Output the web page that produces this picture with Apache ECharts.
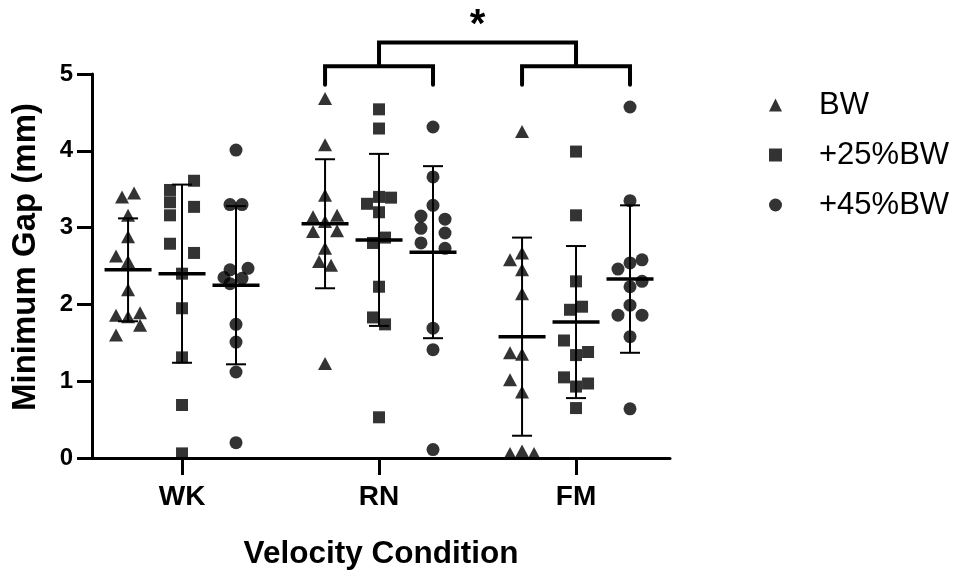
<!DOCTYPE html>
<html>
<head>
<meta charset="utf-8">
<title>Minimum Gap by Velocity Condition</title>
<script src="https://cdn.jsdelivr.net/npm/echarts@6/dist/echarts.min.js"></script>
<style>
  html, body { margin: 0; padding: 0; background: #fff; }
  #chart { width: 960px; height: 571px; }
</style>
</head>
<body>
<div id="chart"></div>
<script>
// ---- data -------------------------------------------------------------
const categories = ['WK', 'RN', 'FM'];
const loadNames = ['BW', '+25%BW', '+45%BW'];
const yTicks = [0, 1, 2, 3, 4, 5];

// individual minimum gaps (mm)
const wkBW  = [3.45, 3.40, 3.16, 2.88, 2.63, 2.56, 2.19, 1.89, 1.86, 1.84, 1.73, 1.60];
const wk25  = [3.61, 3.49, 3.33, 3.27, 3.16, 2.79, 2.67, 2.40, 1.95, 1.31, 0.69, 0.06];
const wk45  = [4.01, 3.30, 3.30, 2.47, 2.45, 2.35, 2.34, 2.27, 1.74, 1.51, 1.12, 0.20];
const rnBW  = [4.68, 4.08, 3.42, 3.16, 3.14, 3.08, 2.96, 2.95, 2.73, 2.56, 2.51, 1.23];
const rn25  = [4.54, 4.29, 3.40, 3.39, 3.31, 3.20, 2.87, 2.80, 2.23, 1.83, 1.74, 0.53];
const rn45  = [4.31, 3.66, 3.29, 3.15, 3.11, 2.99, 2.93, 2.80, 2.73, 1.69, 1.41, 0.11];
const fmBW  = [4.25, 2.67, 2.58, 2.45, 2.14, 1.37, 1.35, 1.02, 0.86, 0.06, 0.09, 0.06];
const fm25  = [3.99, 3.16, 2.30, 1.97, 1.93, 1.53, 1.38, 1.34, 1.05, 0.97, 0.93, 0.65];
const fm45  = [4.57, 3.35, 2.58, 2.54, 2.46, 2.30, 2.23, 1.99, 1.86, 1.86, 1.58, 0.64];

// group mean and standard deviation, per velocity condition (WK, RN, FM)
const meanBW = [2.45, 3.05, 1.58];
const mean25 = [2.40, 2.84, 1.77];
const mean45 = [2.25, 2.68, 2.33];
const sdBW   = [0.67, 0.84, 1.29];
const sd25   = [1.16, 1.12, 0.99];
const sd45   = [1.03, 1.12, 0.96];

// significance annotation: RN vs FM
const sigPair = ['RN', 'FM'];
const sigLabel = '*';

// ---- layout (not data) ------------------------------------------------
// scatter lanes so overlapping points sit side by side, in half-marker steps
const lanes = {
  wkBW: [1, -1, 0, 0, -2, 0, 0, 2, -2, 0, 2, -2],
  wk25: [2, -2, -2, 2, -2, -2, 2, 0, 0, 0, 0, 0],
  wk45: [0, -1, 1, 2, -1, -2, 1, -1, 0, 0, 0, 0],
  rnBW: [0, 0, 0, 2, -2, 0, 2, -2, 0, -1, 1, 0],
  rn25: [0, 0, 0, 2, -2, 0, 1, -1, 0, -1, 1, 0],
  rn45: [0, 0, 0, -2, 2, -2, 2, -2, 2, 0, 0, 0],
  fmBW: [0, 0, -2, 0, 0, -2, 0, -2, 0, -2, 0, 2],
  fm25: [0, 0, 0, 1, -1, -2, 2, 0, -2, 2, 0, 0],
  fm45: [0, 0, 2, 0, -2, 2, 0, 0, -2, 2, 0, 0]
};
const subOffset = [-0.274, 0, 0.274];   // BW, +25%, +45% within a condition
const laneStep = 0.0305;                // half a marker width, in axis units
const FONT = '"Liberation Sans", Arial, Helvetica, sans-serif';

const pointSets = [
  [wkBW, wk25, wk45],
  [rnBW, rn25, rn45],
  [fmBW, fm25, fm45]
];
const laneSets = [
  [lanes.wkBW, lanes.wk25, lanes.wk45],
  [lanes.rnBW, lanes.rn25, lanes.rn45],
  [lanes.fmBW, lanes.fm25, lanes.fm45]
];
const means = [meanBW, mean25, mean45];
const sds = [sdBW, sd25, sd45];
const symbols = ['triangle', 'rect', 'circle'];
const symbolSizes = [[14, 13], 12, 13];

function scatterData(loadIdx) {
  const out = [];
  categories.forEach((c, gi) => {
    const vals = pointSets[gi][loadIdx];
    const ln = laneSets[gi][loadIdx];
    vals.forEach((v, k) => {
      out.push([gi + subOffset[loadIdx] + ln[k] * laneStep, v]);
    });
  });
  return out;
}

function summaryData(loadIdx) {
  return categories.map((c, gi) => [gi + subOffset[loadIdx], means[loadIdx][gi], sds[loadIdx][gi]]);
}

// mean line with +/- SD whiskers
function renderSummary(params, api) {
  const x = api.value(0), m = api.value(1), sd = api.value(2);
  const c = api.coord([x, m]);
  const hi = api.coord([x, m + sd]);
  const lo = api.coord([x, m - sd]);
  const thin = { stroke: '#000', lineWidth: 2 };
  return {
    type: 'group',
    children: [
      { type: 'line', shape: { x1: c[0], y1: hi[1], x2: c[0], y2: lo[1] }, style: thin },
      { type: 'line', shape: { x1: c[0] - 10, y1: hi[1], x2: c[0] + 10, y2: hi[1] }, style: thin },
      { type: 'line', shape: { x1: c[0] - 10, y1: lo[1], x2: c[0] + 10, y2: lo[1] }, style: thin },
      { type: 'line', shape: { x1: c[0] - 23.5, y1: c[1], x2: c[0] + 23.5, y2: c[1] },
        style: { stroke: '#000', lineWidth: 3.5 } }
    ]
  };
}

// comparison bracket levels, in mm on the value axis
const bracketFoot = 4.86, bracketArm = 5.10, bracketTop = 5.41, starLevel = 5.63;

function renderBracket(params, api) {
  const g1 = categories.indexOf(sigPair[0]);
  const g2 = categories.indexOf(sigPair[1]);
  const px = (x, y) => api.coord([x, y]);
  const st = { stroke: '#000', lineWidth: 4, fill: null, lineCap: 'round', lineJoin: 'miter' };
  const children = [];
  [g1, g2].forEach(g => {
    const a = px(g + subOffset[0], bracketFoot);
    const b = px(g + subOffset[0], bracketArm);
    const c = px(g + subOffset[2], bracketArm);
    const d = px(g + subOffset[2], bracketFoot);
    children.push({ type: 'polyline', shape: { points: [a, b, c, d] }, style: st });
  });
  const t1 = px(g1, bracketArm), t2 = px(g1, bracketTop), t3 = px(g2, bracketTop), t4 = px(g2, bracketArm);
  children.push({ type: 'polyline', shape: { points: [t1, t2, t3, t4] },
    style: Object.assign({}, st, { lineCap: 'butt' }) });
  const s = px((g1 + g2) / 2, starLevel);
  children.push({ type: 'text', x: s[0], y: s[1],
    style: { text: sigLabel, font: 'bold 40px ' + FONT, fill: '#000', align: 'center', verticalAlign: 'middle' } });
  return { type: 'group', children };
}

const series = [];
loadNames.forEach((name, i) => {
  series.push({
    name,
    type: 'scatter',
    symbol: symbols[i],
    symbolSize: symbolSizes[i],
    itemStyle: { color: '#000' },
    data: scatterData(i),
    z: 3,
    silent: true
  });
});
loadNames.forEach((name, i) => {
  series.push({
    name: name + ' mean ± SD',
    type: 'custom',
    renderItem: renderSummary,
    encode: { x: 0, y: 1 },
    data: summaryData(i),
    z: 4,
    silent: true
  });
});
series.push({
  name: 'significance',
  type: 'custom',
  renderItem: renderBracket,
  data: [[1, 5]],
  encode: { x: 0, y: 1 },
  clip: false,
  z: 5,
  silent: true
});

const axisColor = '#000';
const option = {
  animation: false,
  backgroundColor: '#fff',
  grid: { left: 92, right: 290, top: 74, bottom: 113, containLabel: false, outerBoundsMode: 'none' },
  xAxis: {
    type: 'value',
    min: -0.457,
    max: 2.477,
    splitLine: { show: false },
    axisLine: { show: true, onZero: false, lineStyle: { color: axisColor, width: 3 } },
    axisTick: { show: true, customValues: [0, 1, 2], length: 17, lineStyle: { color: axisColor, width: 3 } },
    axisLabel: {
      customValues: [0, 1, 2],
      formatter: v => categories[Math.round(v)],
      margin: 25,
      color: '#000', fontFamily: FONT, fontWeight: 'bold', fontSize: 28
    },
    name: 'Velocity Condition',
    nameLocation: 'middle',
    nameGap: 80,
    nameTextStyle: { color: '#000', fontFamily: FONT, fontWeight: 'bold', fontSize: 31.5 }
  },
  yAxis: {
    type: 'value',
    min: yTicks[0],
    max: yTicks[yTicks.length - 1],
    interval: 1,
    splitLine: { show: false },
    axisLine: { show: true, onZero: false, lineStyle: { color: axisColor, width: 3 } },
    axisTick: { show: true, length: 15, lineStyle: { color: axisColor, width: 3 } },
    axisLabel: { margin: 19, color: '#000', fontFamily: FONT, fontWeight: 'bold', fontSize: 24 },
    name: 'Minimum Gap (mm)',
    nameLocation: 'middle',
    nameGap: 50,
    nameTextStyle: { color: '#000', fontFamily: FONT, fontWeight: 'bold', fontSize: 33, padding: [0, 0, 0, 18] }
  },
  legend: {
    data: loadNames.map((n, i) => ({ name: n, icon: symbols[i] })),
    orient: 'vertical',
    left: 764,
    top: 84,
    itemWidth: 13,
    itemHeight: 13,
    itemGap: 18,
    selectedMode: false,
    textStyle: { color: '#000', fontFamily: FONT, fontSize: 31, lineHeight: 32, padding: [0, 0, 0, 32] },
    itemStyle: { color: '#000' }
  },
  series
};

const chart = echarts.init(document.getElementById('chart'), null, { renderer: 'canvas' });
chart.setOption(option);
</script>
</body>
</html>
